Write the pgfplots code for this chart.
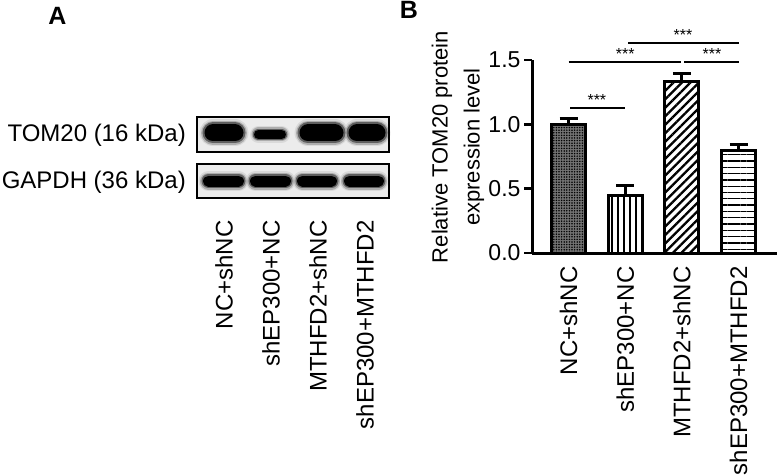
\documentclass[border=0pt]{standalone}
\usepackage{pgfplots}
\pgfplotsset{compat=1.18}
\usepackage{fontspec}
\setmainfont{Liberation Sans}
\usetikzlibrary{patterns.meta}

\begin{document}
\begin{tikzpicture}[x=1pt,y=1pt]
\useasboundingbox (0,0) rectangle (780,-476);

% panel letters
\node[font=\fontsize{25}{25}\selectfont\bfseries] at (57.5,-16) {A};
\node[font=\fontsize{25}{25}\selectfont\bfseries] at (409,-10) {B};

% blot row labels
\node[anchor=east, inner sep=0pt, font=\fontsize{24}{24}\selectfont] at (186,-135) {TOM20 (16 kDa)};
\node[anchor=east, inner sep=0pt, font=\fontsize{24}{24}\selectfont] at (186,-182) {GAPDH (36 kDa)};

% ---------- panel A: blot ----------
\begin{axis}[
    at={(197pt,-198pt)}, anchor=south west,
    scale only axis, width=192pt, height=81pt,
    xmin=197, xmax=389, ymin=-198, ymax=-117,
    clip=false,
    axis line style={draw=none},
    ytick=\empty,
    xtick={224,271,318,365},
    xticklabels={NC+shNC,shEP300+NC,MTHFD2+shNC,shEP300+MTHFD2},
    xtick style={draw=none}, major tick length=0pt,
    xticklabel style={yshift=-19pt, rotate=90, anchor=east,
        font=\fontsize{24}{24}\selectfont},
    unbounded coords=jump,
  ]
  % membrane boxes
  \addplot[draw=black, line width=1.5pt, fill=gray!15]
    coordinates {(197,-152) (389,-152) (389,-117) (197,-117)} --cycle;
  \addplot[draw=black, line width=1.5pt, fill=gray!15]
    coordinates {(197,-198) (389,-198) (389,-164) (197,-164)} --cycle;

  % TOM20 bands (lanes 1,3,4): soft halo layers, then core
  \addplot[line cap=round, line width=27pt, black, opacity=0.08]
    coordinates {(213,-133) (235,-133) (250,nan) (308,-133) (335,-133) (350,nan) (357,-133) (377,-133)};
  \addplot[line cap=round, line width=24pt, black, opacity=0.2]
    coordinates {(213,-133) (235,-133) (250,nan) (308,-133) (335,-133) (350,nan) (357,-133) (377,-133)};
  \addplot[line cap=round, line width=21pt, black, opacity=0.45]
    coordinates {(213,-133) (235,-133) (250,nan) (308,-133) (335,-133) (350,nan) (357,-133) (377,-133)};
  \addplot[line cap=round, line width=17pt, black]
    coordinates {(213,-133) (235,-133) (250,nan) (308,-133) (335,-133) (350,nan) (357,-133) (377,-133)};
  % TOM20 band lane 2 (weak)
  \addplot[line cap=round, line width=17pt, black, opacity=0.08]
    coordinates {(258.5,-134.5) (281.5,-134.5)};
  \addplot[line cap=round, line width=14pt, black, opacity=0.2]
    coordinates {(258.5,-134.5) (281.5,-134.5)};
  \addplot[line cap=round, line width=11.5pt, black, opacity=0.45]
    coordinates {(258.5,-134.5) (281.5,-134.5)};
  \addplot[line cap=round, line width=9pt, black]
    coordinates {(258.5,-134.5) (281.5,-134.5)};
  % GAPDH bands
  \addplot[line cap=round, line width=20pt, black, opacity=0.08]
    coordinates {(208.5,-181) (238.5,-181) (245,nan) (255.5,-181) (285.5,-181) (295,nan) (302.5,-181) (331.5,-181) (340,nan) (349.5,-181) (378.5,-181)};
  \addplot[line cap=round, line width=17pt, black, opacity=0.2]
    coordinates {(208.5,-181) (238.5,-181) (245,nan) (255.5,-181) (285.5,-181) (295,nan) (302.5,-181) (331.5,-181) (340,nan) (349.5,-181) (378.5,-181)};
  \addplot[line cap=round, line width=14pt, black, opacity=0.45]
    coordinates {(208.5,-181) (238.5,-181) (245,nan) (255.5,-181) (285.5,-181) (295,nan) (302.5,-181) (331.5,-181) (340,nan) (349.5,-181) (378.5,-181)};
  \addplot[line cap=round, line width=11pt, black]
    coordinates {(208.5,-181) (238.5,-181) (245,nan) (255.5,-181) (285.5,-181) (295,nan) (302.5,-181) (331.5,-181) (340,nan) (349.5,-181) (378.5,-181)};
\end{axis}

% ---------- panel B: bar chart ----------
\begin{axis}[
    at={(532pt,-253pt)}, anchor=south west,
    scale only axis, width=245pt, height=193pt,
    ybar, bar width=34pt,
    xmin=-0.644, xmax=3.677,
    ymin=0, ymax=1.5,
    clip=false,
    axis lines=left,
    axis line style={line width=3pt, -},
    ytick={0,0.5,1,1.5},
    yticklabel style={/pgf/number format/.cd, fixed, fixed zerofill, precision=1,
        /tikz/.cd, font=\fontsize{23}{23}\selectfont},
    /pgf/number format/assume math mode=true,
    tick align=outside, major tick length=8pt,
    ytick style={line width=2.5pt, black},
    xtick={0,1,2,3},
    xticklabels={NC+shNC,shEP300+NC,MTHFD2+shNC,shEP300+MTHFD2},
    xtick style={draw=none},
    xticklabel style={yshift=-2pt, rotate=90, anchor=east,
        font=\fontsize{24}{24}\selectfont},
    ylabel={Relative TOM20 protein\\expression level},
    ylabel style={at={(axis description cs:-0.302,0.549)}, anchor=center,
        align=center, font=\fontsize{22}{32}\selectfont},
    error bars/y dir=plus, error bars/y explicit,
    error bars/error bar style={line width=3pt, black},
    error bars/error mark options={rotate=90, line width=3pt, mark size=9pt, black},
  ]
  \addplot[bar shift=0pt, draw=black, line width=3pt, fill=black!55,
      postaction={pattern={Dots[distance=2.6pt, radius=0.85pt]}, pattern color=black}]
    coordinates {(0,1.00) +- (0,0.049)};
  \addplot[bar shift=0pt, draw=black, line width=3pt,
      pattern={Lines[angle=90, distance=6pt, line width=1.4pt]}, pattern color=black]
    coordinates {(1,0.45) +- (0,0.071)};
  \addplot[bar shift=0pt, draw=black, line width=3pt,
      pattern={Lines[angle=45, distance=6pt, line width=2.3pt]}, pattern color=black]
    coordinates {(2,1.336) +- (0,0.062)};
  \addplot[bar shift=0pt, draw=black, line width=3pt,
      pattern={Lines[angle=0, distance=6.3pt, line width=1.3pt]}, pattern color=black]
    coordinates {(3,0.80) +- (0,0.047)};

  % significance brackets
  \addplot[sharp plot, line width=2pt, black] coordinates {(0.03,1.127) (1,1.127)};
  \addplot[sharp plot, line width=2pt, black] coordinates {(0,1.484) (1.99,1.484)};
  \addplot[sharp plot, line width=2pt, black] coordinates {(2.04,1.484) (3,1.484)};
  \addplot[sharp plot, line width=2pt, black] coordinates {(1.05,1.632) (3,1.632)};
  \node[font=\fontsize{16}{16}\selectfont, inner sep=0pt] at (axis cs:0.5,1.19) {***};
  \node[font=\fontsize{16}{16}\selectfont, inner sep=0pt] at (axis cs:1.0,1.545) {***};
  \node[font=\fontsize{16}{16}\selectfont, inner sep=0pt] at (axis cs:2.53,1.545) {***};
  \node[font=\fontsize{16}{16}\selectfont, inner sep=0pt] at (axis cs:2.02,1.695) {***};
\end{axis}
\end{tikzpicture}
\end{document}
